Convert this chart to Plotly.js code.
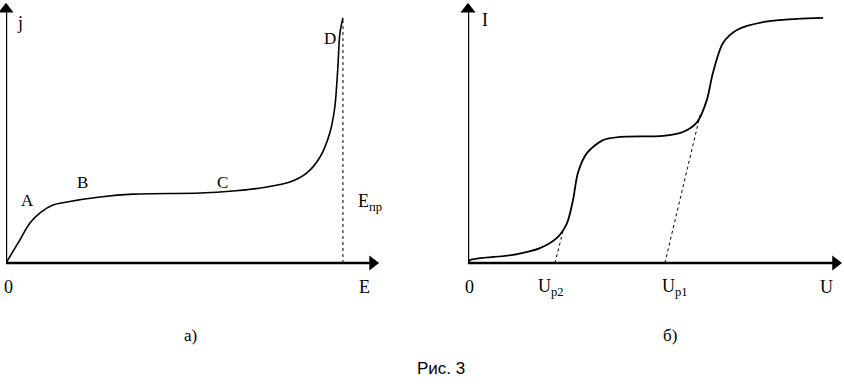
<!DOCTYPE html>
<html>
<head>
<meta charset="utf-8">
<script src="https://cdn.plot.ly/plotly-3.0.1.min.js"></script>
<style>html,body{margin:0;padding:0;background:#fff;}#chart{width:844px;height:386px;}</style>
</head>
<body>
<div id="chart"></div>
<script>
// Panel а): current density j vs field E
const E_vals = [0, 0.36, 0.71, 1.01, 1.39, 1.81, 2.79, 3.77, 5.76, 6.74, 7.74, 8.43, 8.93, 9.32, 9.61, 9.76, 9.85, 9.91, 10.0];
const j_vals = [0, 0.77, 1.53, 1.92, 2.22, 2.34, 2.53, 2.64, 2.68, 2.76, 2.91, 3.10, 3.45, 4.06, 4.98, 5.98, 7.51, 8.81, 9.39];
const E_breakdown = 10.0;
const j_breakdown_top = 9.39;

// Panel б): current I vs voltage U
const U_vals = [0, 0.05, 1.2, 1.92, 2.37, 2.64, 2.8, 2.93, 3.17, 3.6, 4.05, 5.2, 5.73, 6.11, 6.37, 6.53, 6.8, 7.17, 7.87, 8.77, 9.47];
const I_vals = [0, 0.11, 0.31, 0.57, 0.96, 1.53, 2.41, 3.45, 4.21, 4.71, 4.83, 4.87, 5.02, 5.40, 6.25, 7.28, 8.43, 8.93, 9.23, 9.35, 9.39];
// tangent lines (dashed) giving U_p2 and U_p1
const tangent2_U = [2.32, 2.53];
const tangent2_I = [0, 1.2];
const tangent1_U = [5.25, 6.19];
const tangent1_I = [0, 5.67];

const tickLabelsLeft = ["0", "E"];
const tickLabelsRight = ["0", "U<sub>р2</sub>", "U<sub>р1</sub>", "U"];
const pointLabels = ["A", "B", "C", "D"];

const serif = "Liberation Serif, Times New Roman, serif";
const black = "#000";

const xMaxLeft = 11.1, xMaxRight = 10, yMax = 10;
// axis lines end a little before the range edge; the arrowhead marker reaches the edge
const xEndLeft = 10.88, xEndRight = 9.80, yEnd = 9.72;

function axisLine(xa, ya, xs, ys) {
  return {x: xs, y: ys, xaxis: xa, yaxis: ya, mode: "lines", cliponaxis: false,
    line: {color: black, width: 2.4}};
}
function arrowHead(xa, ya, x, y, sym) {
  return {x: [x], y: [y], xaxis: xa, yaxis: ya, mode: "markers", cliponaxis: false,
    marker: {color: black, size: 13, symbol: sym, line: {width: 0}}};
}

const traces = [
  axisLine("x", "y", [0, xEndLeft], [0, 0]),
  axisLine("x", "y", [0, 0], [0, yEnd]),
  axisLine("x2", "y2", [0, xEndRight], [0, 0]),
  axisLine("x2", "y2", [0, 0], [0, yEnd]),
  arrowHead("x", "y", xEndLeft, 0, "triangle-right"),
  arrowHead("x", "y", 0, yEnd, "triangle-up"),
  arrowHead("x2", "y2", xEndRight, 0, "triangle-right"),
  arrowHead("x2", "y2", 0, yEnd, "triangle-up"),
  {x: E_vals, y: j_vals, xaxis: "x", yaxis: "y", mode: "lines",
   line: {color: black, width: 1.6, shape: "spline", smoothing: 0.8}},
  {x: [E_breakdown, E_breakdown], y: [0, j_breakdown_top], xaxis: "x", yaxis: "y", mode: "lines",
   line: {color: black, width: 1, dash: "3px,3px"}},
  {x: U_vals, y: I_vals, xaxis: "x2", yaxis: "y2", mode: "lines",
   line: {color: black, width: 1.8, shape: "spline", smoothing: 0.8}},
  {x: tangent2_U, y: tangent2_I, xaxis: "x2", yaxis: "y2", mode: "lines",
   line: {color: black, width: 1, dash: "3px,3px"}},
  {x: tangent1_U, y: tangent1_I, xaxis: "x2", yaxis: "y2", mode: "lines",
   line: {color: black, width: 1, dash: "3px,3px"}}
];

const hiddenAxis = {showgrid: false, zeroline: false, showline: false, showticklabels: false, ticks: "", fixedrange: true};

function label(xref, yref, x, y, text, size, family) {
  return {xref: xref, yref: yref, x: x, y: y, text: text, showarrow: false,
    font: {family: family || serif, size: size || 18, color: black}, xanchor: "center", yanchor: "middle"};
}

const annotations = [
  // left panel labels
  label("x", "y", 0.06, -0.92, tickLabelsLeft[0]),
  label("x", "y", 10.65, -0.92, tickLabelsLeft[1]),
  label("x", "y", 0.42, 9.2, "j"),
  label("x", "y", 0.65, 2.41, pointLabels[0], 17),
  label("x", "y", 2.26, 3.10, pointLabels[1], 17),
  label("x", "y", 6.44, 3.10, pointLabels[2], 17),
  label("x", "y", 9.61, 8.62, pointLabels[3], 17),
  label("x", "y", 10.8, 2.3, "E<sub>пр</sub>"),
  // right panel labels
  label("x2", "y2", 0.03, -0.92, tickLabelsRight[0]),
  label("x2", "y2", 2.21, -0.92, tickLabelsRight[1]),
  label("x2", "y2", 5.52, -0.92, tickLabelsRight[2]),
  label("x2", "y2", 9.57, -0.92, tickLabelsRight[3]),
  label("x2", "y2", 0.45, 9.31, "I"),
  // captions
  label("paper", "paper", 0.2263, 0.1321, "а)", 17),
  label("paper", "paper", 0.7938, 0.1321, "б)", 17),
  label("paper", "paper", 0.5225, 0.0466, "Рис. 3", 17, "Liberation Sans, Arial, sans-serif")
];

// y range extended below zero so that labels under the axes stay visible
const yDomain = [83.85/386, 384/386];
const layout = {
  width: 844, height: 386,
  margin: {l: 0, r: 0, t: 0, b: 0},
  paper_bgcolor: "#fff", plot_bgcolor: "rgba(0,0,0,0)",
  showlegend: false, hovermode: false,
  xaxis: Object.assign({domain: [6/844, 380/844], range: [0, xMaxLeft]}, hiddenAxis),
  yaxis: Object.assign({domain: yDomain, range: [-1.5, yMax]}, hiddenAxis),
  xaxis2: Object.assign({domain: [468/844, 843/844], range: [0, xMaxRight], anchor: "y2"}, hiddenAxis),
  yaxis2: Object.assign({domain: yDomain, range: [-1.5, yMax], anchor: "x2"}, hiddenAxis),
  annotations: annotations
};

Plotly.newPlot("chart", traces, layout, {displayModeBar: false, staticPlot: true});
</script>
</body>
</html>
